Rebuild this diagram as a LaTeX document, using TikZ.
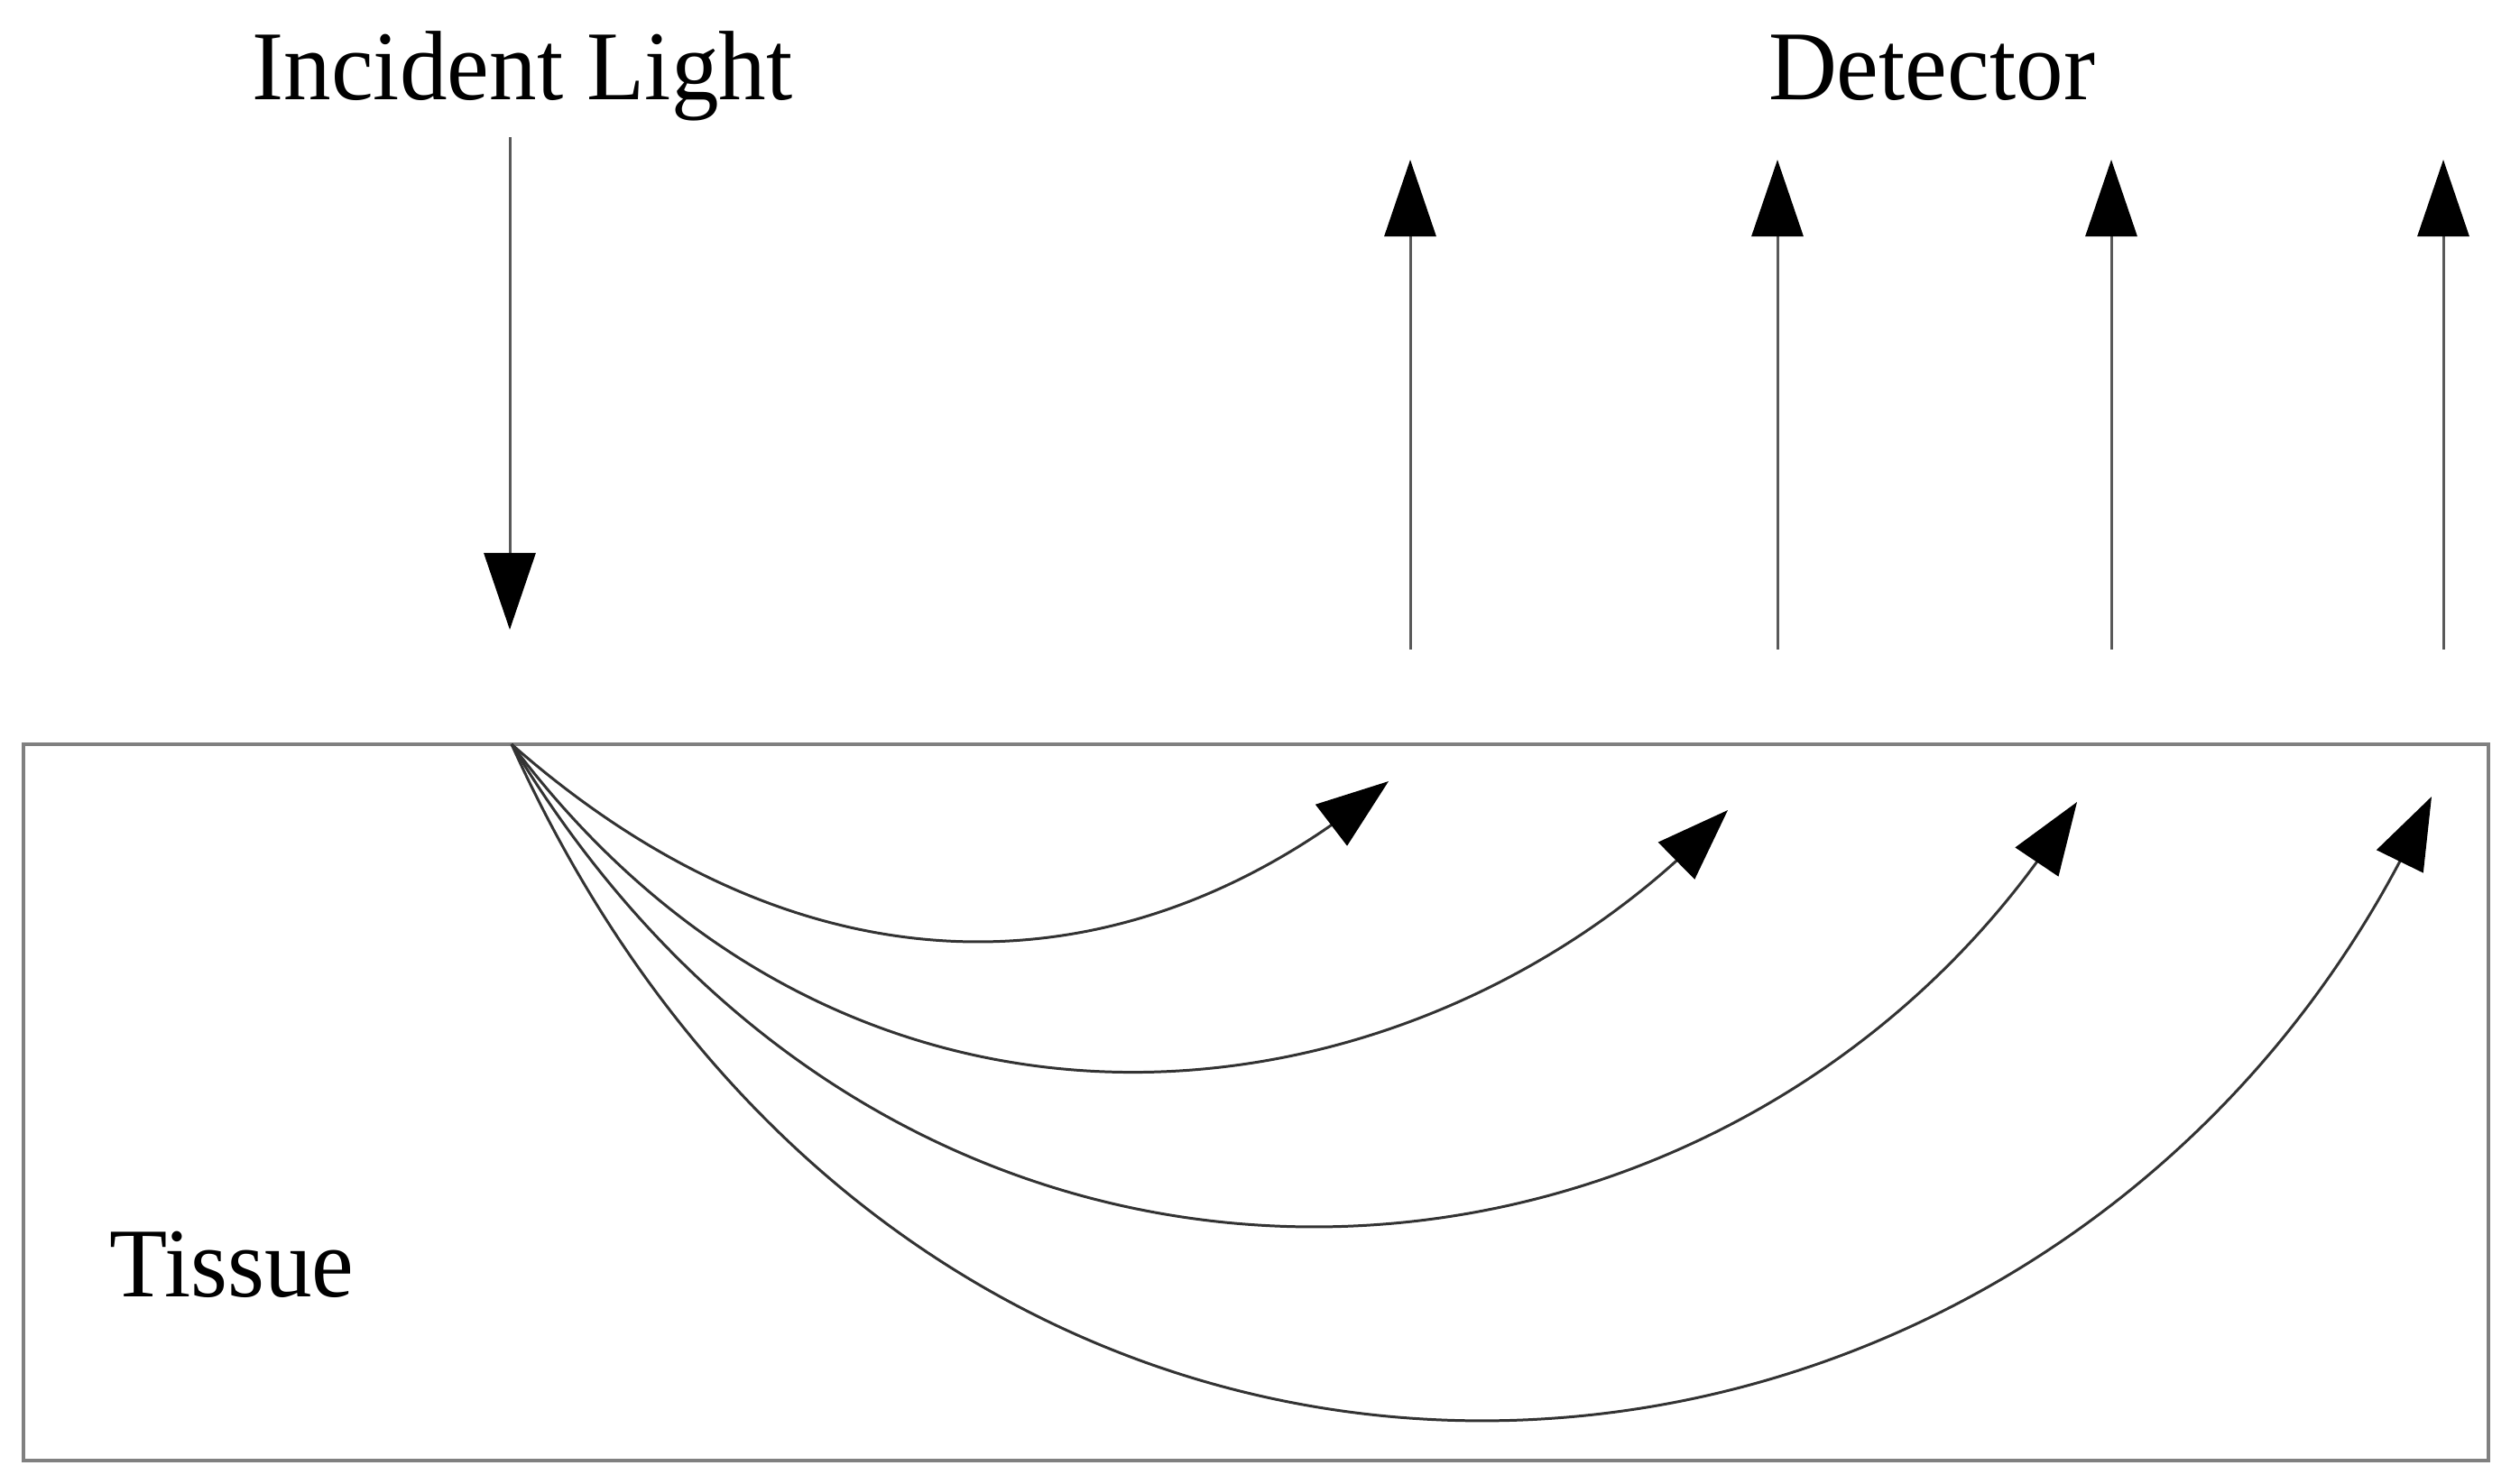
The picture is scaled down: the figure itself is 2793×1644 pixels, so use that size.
\documentclass[tikz,border=0pt]{standalone}
\usepackage{fontspec}
\setmainfont{Liberation Serif}
\usetikzlibrary{arrows.meta,bending}
\begin{document}
\begin{tikzpicture}[x=0.01cm,y=-0.01cm,
  lbl/.style={inner sep=0pt,font=\fontsize{29.9}{36}\selectfont},
  tissuebox/.style={draw=black!50,line width=1.2pt},
  ray/.style={draw=black!65,line width=0.85pt,-{Triangle[length=0.85cm,width=0.57cm,color=black]}},
  scatterpath/.style={draw=black!80,line width=0.85pt,-{Triangle[length=0.8cm,width=0.57cm,color=black,flex]}}]
\useasboundingbox (0,0) rectangle (2793,1644);
% tissue
\draw[tissuebox] (26,825) rectangle (2758,1619);
\node[lbl,anchor=base west,yscale=1.04] (tissue) at (121,1437) {Tissue};
% labels
\node[lbl,anchor=base,yscale=1.04] (inc) at (579,110) {Incident Light};
\node[lbl,anchor=base,yscale=1.04] (det) at (2141,110) {Detector};
% incident light
\coordinate (inS) at (565,152);
\coordinate (inE) at (565,698);
\draw[ray] (inS) -- (inE);
\coordinate (o) at (567,825);
% detector arrows
\foreach \i/\x in {1/1563,2/1970,3/2340,4/2708}{
  \coordinate (d\i s) at (\x,720);
  \coordinate (d\i e) at (\x,177);
  \draw[ray] (d\i s) -- (d\i e);
}
% scattered paths
\coordinate (t1) at (1539,866);
\coordinate (t2) at (1915,898);
\coordinate (t3) at (2302,889);
\coordinate (t4) at (2695,883);
\draw[scatterpath] (o) .. controls (902,1120) and (1260,1100) .. (t1);
\draw[scatterpath] (o) .. controls (957,1345) and (1589,1250) .. (t2);
\draw[scatterpath] (o) .. controls (1018,1575) and (1940,1480) .. (t3);
\draw[scatterpath] (o) .. controls (1039,1870) and (2300,1760) .. (t4);
\end{tikzpicture}
\end{document}
